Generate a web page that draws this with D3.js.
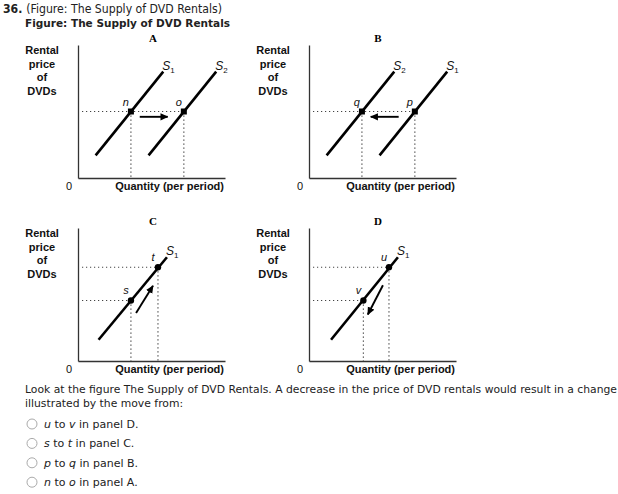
<!DOCTYPE html>
<html>
<head>
<meta charset="utf-8">
<script src="https://cdn.jsdelivr.net/npm/d3@7/dist/d3.min.js"></script>
<style>
  html, body { margin: 0; padding: 0; background: #fff; }
  svg { display: block; }
</style>
</head>
<body>
<svg id="chart" width="618" height="494"></svg>
<script>
// ---------------- DATA ----------------
const questionNumber = "36.";
const questionRef = "(Figure: The Supply of DVD Rentals)";
const figureTitle = "Figure: The Supply of DVD Rentals";
const panelNames = ["A", "B", "C", "D"];
const yAxisLabel = ["Rental", "price", "of", "DVDs"];
const xAxisLabel = "Quantity (per period)";
const originLabel = "0";

// supply curves per panel: [x1, y1, x2, y2] in data units (0..100)
const curveNames = [["1", "2"], ["2", "1"], ["1"], ["1"]];
const curvesA = [[12, 17, 58, 80], [48, 17, 94, 80]];
const curvesB = [[12, 17, 58, 80], [48, 17, 94, 80]];
const curvesC = [[14, 16, 60.5, 78]];
const curvesD = [[15, 16, 60.5, 78]];

// labelled points per panel
const pointNamesA = ["n", "o"], pointXA = [36, 72], pointYA = [50, 50];
const pointNamesB = ["q", "p"], pointXB = [36, 72], pointYB = [50, 50];
const pointNamesC = ["s", "t"], pointXC = [36, 54.4], pointYC = [45.5, 70.5];
const pointNamesD = ["v", "u"], pointXD = [37, 54.4], pointYD = [45.5, 70.5];

// arrows per panel: [fromX, fromY, toX, toY]
const arrowA = [42, 46, 61, 46];
const arrowB = [61, 46, 42, 46];
const arrowC = [39.5, 36, 51, 56.5];
const arrowD = [50.3, 57, 40, 35];

const questionLines = [
  "Look at the figure The Supply of DVD Rentals. A decrease in the price of DVD rentals would result in a change",
  "illustrated by the move from:"
];
const optionFrom = ["u", "s", "p", "n"];
const optionTo = ["v", "t", "q", "o"];
const optionPanel = ["D", "C", "B", "A"];

// ---------------- LAYOUT ----------------
const svg = d3.select("#chart");
svg.append("rect").attr("width", 618).attr("height", 494).attr("fill", "#fff");

const plotW = 147, plotH = 133;
const panelOrigins = [[78, 178], [309, 178], [78, 361], [309, 361]];
const letterDx = [75, 69, 75, 69];

const defs = svg.append("defs");
defs.append("marker")
  .attr("id", "ah").attr("viewBox", "0 0 10 10")
  .attr("refX", 9).attr("refY", 5)
  .attr("markerWidth", 4.2).attr("markerHeight", 4.2)
  .attr("markerUnits", "strokeWidth")
  .attr("orient", "auto")
  .append("path").attr("d", "M0,0.5 L10,5 L0,9.5 Z").attr("fill", "#000");

const panels = [
  { curves: curvesA, names: pointNamesA, px: pointXA, py: pointYA, arrow: arrowA },
  { curves: curvesB, names: pointNamesB, px: pointXB, py: pointYB, arrow: arrowB },
  { curves: curvesC, names: pointNamesC, px: pointXC, py: pointYC, arrow: arrowC },
  { curves: curvesD, names: pointNamesD, px: pointXD, py: pointYD, arrow: arrowD }
];

const sans = "'Liberation Sans', Arial, sans-serif";

panels.forEach((p, i) => {
  const [ox, oy] = panelOrigins[i];
  const x = d3.scaleLinear().domain([0, 100]).range([ox, ox + plotW]);
  const y = d3.scaleLinear().domain([0, 100]).range([oy, oy - plotH]);
  const g = svg.append("g");

  // axes (no ticks)
  g.append("g").attr("transform", `translate(0,${oy})`)
    .call(d3.axisBottom(x).ticks(0).tickSizeOuter(0))
    .call(a => a.select(".domain").attr("stroke", "#333").attr("stroke-width", 1.3));
  g.append("g").attr("transform", `translate(${ox},0)`)
    .call(d3.axisLeft(y).ticks(0).tickSizeOuter(0))
    .call(a => a.select(".domain").attr("stroke", "#333").attr("stroke-width", 1.3));

  // panel letter
  g.append("text").attr("x", ox + letterDx[i]).attr("y", oy - plotH - 3)
    .attr("text-anchor", "middle")
    .attr("font-family", "'Liberation Serif', serif").attr("font-weight", "bold")
    .attr("font-size", 11).text(panelNames[i]);

  // y axis label
  yAxisLabel.forEach((t, k) => {
    g.append("text").attr("x", ox - 36).attr("y", oy - plotH + 9 + k * 13.7)
      .attr("text-anchor", "middle")
      .attr("font-family", sans).attr("font-weight", "bold")
      .attr("font-size", 11).attr("fill", "#111").text(t);
  });
  // origin and x label
  g.append("text").attr("x", ox - 9).attr("y", oy + 12).attr("text-anchor", "middle")
    .attr("font-family", sans).attr("font-size", 11)
    .attr("fill", "#111").text(originLabel);
  g.append("text").attr("x", ox + plotW - 1).attr("y", oy + 12).attr("text-anchor", "end")
    .attr("font-family", sans).attr("font-weight", "bold")
    .attr("font-size", 11).attr("fill", "#111").text(xAxisLabel);

  // dotted guides
  p.px.forEach((vx, k) => {
    const vy = p.py[k];
    g.append("line").attr("x1", x(vx)).attr("y1", y(vy)).attr("x2", x(vx)).attr("y2", oy)
      .attr("stroke", "#444").attr("stroke-width", 1.2).attr("stroke-dasharray", "1.2,2.8");
  });
  const ys = Array.from(new Set(p.py));
  ys.forEach(vy => {
    const maxX = d3.max(p.px.filter((_, k) => p.py[k] === vy));
    g.append("line").attr("x1", ox + 4).attr("y1", y(vy)).attr("x2", x(maxX)).attr("y2", y(vy))
      .attr("stroke", "#444").attr("stroke-width", 1.2).attr("stroke-dasharray", "1.2,2.8");
  });

  // supply curves
  p.curves.forEach((c, k) => {
    g.append("line").attr("x1", x(c[0])).attr("y1", y(c[1])).attr("x2", x(c[2])).attr("y2", y(c[3]))
      .attr("stroke", "#000").attr("stroke-width", 2.6);
    const lt = g.append("text").attr("x", x(c[2]) - 1).attr("y", y(c[3]) - 2)
      .attr("font-family", sans).attr("font-style", "italic")
      .attr("font-size", 12).attr("fill", "#111");
    lt.append("tspan").text("S");
    lt.append("tspan").attr("font-size", 8).attr("font-style", "normal").attr("dy", 3).text(curveNames[i][k]);
  });

  // points
  p.px.forEach((vx, k) => {
    const vy = p.py[k];
    if (i < 2) {
      g.append("rect").attr("x", x(vx) - 3).attr("y", y(vy) - 3).attr("width", 6).attr("height", 6)
        .attr("fill", "#000");
    } else {
      g.append("circle").attr("cx", x(vx)).attr("cy", y(vy)).attr("r", 3.2).attr("fill", "#000");
    }
    g.append("text").attr("x", x(vx) - 5).attr("y", y(vy) - 6).attr("text-anchor", "middle")
      .attr("font-family", sans).attr("font-style", "italic")
      .attr("font-size", 11).attr("fill", "#111").text(p.names[k]);
  });

  // arrow
  const a = p.arrow;
  g.append("line").attr("x1", x(a[0])).attr("y1", y(a[1])).attr("x2", x(a[2])).attr("y2", y(a[3]))
    .attr("stroke", "#000").attr("stroke-width", 1.9).attr("marker-end", "url(#ah)");
});

// ---------------- TEXT ----------------
const tf = "'DejaVu Sans', Verdana, sans-serif";
const h1 = svg.append("text").attr("x", 3).attr("y", 13).attr("font-family", tf).attr("font-size", 11.5)
  .attr("fill", "#222").attr("textLength", 219).attr("lengthAdjust", "spacingAndGlyphs");
h1.append("tspan").attr("font-weight", "bold").text(questionNumber + " ");
h1.append("tspan").text(questionRef);
svg.append("text").attr("x", 25).attr("y", 27).attr("font-family", tf).attr("font-size", 11)
  .attr("font-weight", "bold").attr("fill", "#222")
  .attr("textLength", 205).attr("lengthAdjust", "spacingAndGlyphs").text(figureTitle);

questionLines.forEach((t, k) => {
  const el = svg.append("text").attr("x", 25).attr("y", 393 + k * 14).attr("font-family", tf)
    .attr("font-size", 10.8).attr("fill", "#222").text(t);
  if (k === 0) el.attr("textLength", 592).attr("lengthAdjust", "spacingAndGlyphs");
});

optionFrom.forEach((f, k) => {
  const yy = 428 + k * 19.4;
  svg.append("circle").attr("cx", 32).attr("cy", yy - 4).attr("r", 5)
    .attr("fill", "#fff").attr("stroke", "#aaa").attr("stroke-width", 1);
  const t = svg.append("text").attr("x", 44).attr("y", yy).attr("font-family", tf)
    .attr("font-size", 11).attr("fill", "#222");
  t.append("tspan").attr("font-style", "italic").text(f);
  t.append("tspan").text(" to ");
  t.append("tspan").attr("font-style", "italic").text(optionTo[k]);
  t.append("tspan").text(" in panel " + optionPanel[k] + ".");
});
</script>
</body>
</html>
